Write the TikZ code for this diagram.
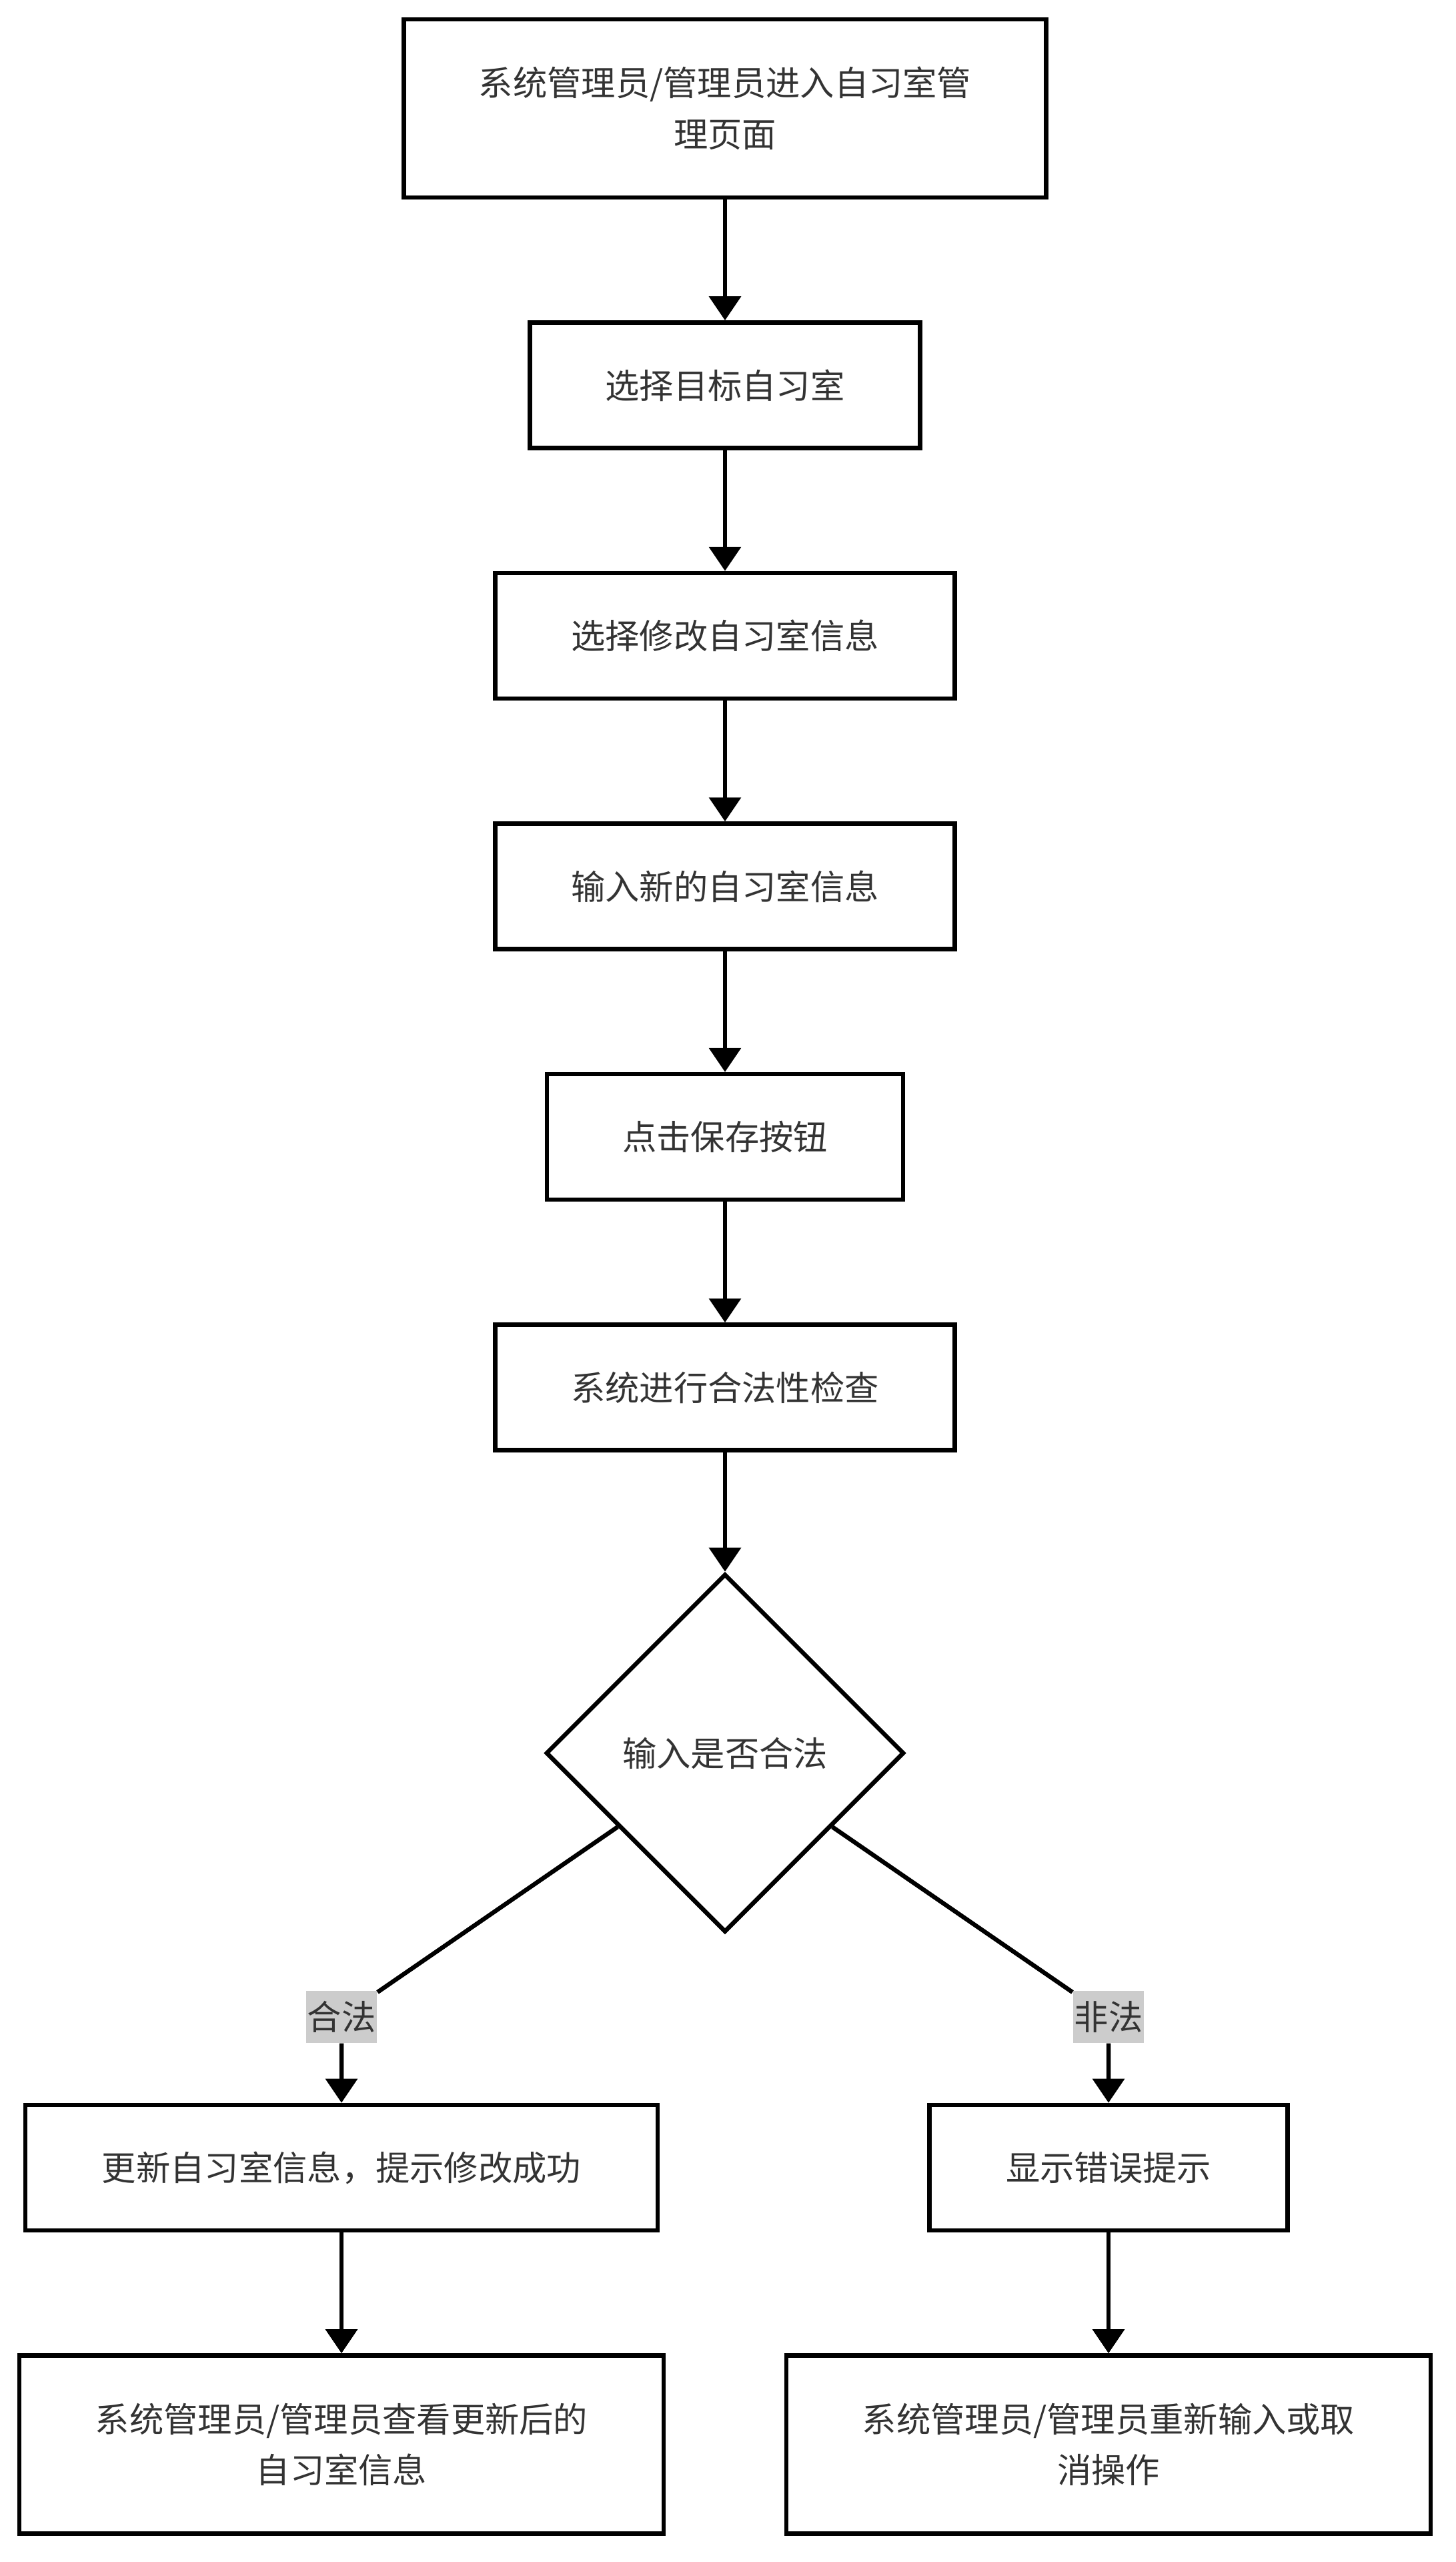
\documentclass[tikz,border=0pt]{standalone}
\usepackage{fontspec}
\setmainfont{Noto Sans CJK SC}
\usetikzlibrary{positioning, arrows.meta, shapes.geometric}

\definecolor{textgray}{HTML}{333333}
\definecolor{labelgray}{HTML}{CCCCCC}

\begin{document}
\begin{tikzpicture}[
    font=\fontsize{14.6pt}{21.8pt}\selectfont,
    stepbox/.style={
        draw=black, line width=0.065cm, align=center, text=textgray,
        inner sep=0pt, minimum height=1.88cm, minimum width=#1
    },
    tallbox/.style={
        stepbox=#1, minimum height=2.67cm
    },
    checkbox/.style={
        diamond, draw=black, line width=0.065cm, text=textgray,
        inner sep=0pt, aspect=1, minimum width=5.37cm, minimum height=5.37cm
    },
    branchlabel/.style={
        fill=labelgray, text=textgray, inner xsep=0.02cm, inner ysep=0pt,
        minimum height=0.78cm
    },
    flowarrow/.style={
        -{Triangle[length=0.36cm, width=0.47cm]},
        line width=0.065cm, draw=black
    }
]
\useasboundingbox (0,0) rectangle (21.83,-38.4);

% --- Main column ---
\node[tallbox=9.63cm] (enter) at (10.87,-1.625) {系统管理员/管理员进入自习室管\\理页面};
\node[stepbox=5.85cm, below=1.81cm of enter] (pick) {选择目标自习室};
\node[stepbox=6.89cm, below=1.81cm of pick] (modify) {选择修改自习室信息};
\node[stepbox=6.89cm, below=1.81cm of modify] (input) {输入新的自习室信息};
\node[stepbox=5.34cm, below=1.81cm of input] (save) {点击保存按钮};
\node[stepbox=6.89cm, below=1.81cm of save] (check) {系统进行合法性检查};
\node[checkbox, below=1.79cm of check] (valid) {输入是否合法};

% --- Branch labels ---
\node[branchlabel] (legal) at (5.12,-30.23) {合法};
\node[branchlabel] (illegal) at (16.62,-30.23) {非法};

% --- Left branch ---
\node[stepbox=9.48cm, below=0.89cm of legal] (update) {更新自习室信息，提示修改成功};
\node[tallbox=9.66cm, below=1.81cm of update] (view) {系统管理员/管理员查看更新后的\\自习室信息};

% --- Right branch ---
\node[stepbox=5.37cm, below=0.89cm of illegal] (error) {显示错误提示};
\node[tallbox=9.66cm, below=1.81cm of error] (retry) {系统管理员/管理员重新输入或取\\消操作};

% --- Flow arrows ---
\draw[flowarrow] (enter) -- (pick);
\draw[flowarrow] (pick) -- (modify);
\draw[flowarrow] (modify) -- (input);
\draw[flowarrow] (input) -- (save);
\draw[flowarrow] (save) -- (check);
\draw[flowarrow] (check) -- (valid);
\draw[flowarrow] (valid) -- (legal) -- (update);
\draw[flowarrow] (valid) -- (illegal) -- (error);
\draw[flowarrow] (update) -- (view);
\draw[flowarrow] (error) -- (retry);

\end{tikzpicture}
\end{document}
